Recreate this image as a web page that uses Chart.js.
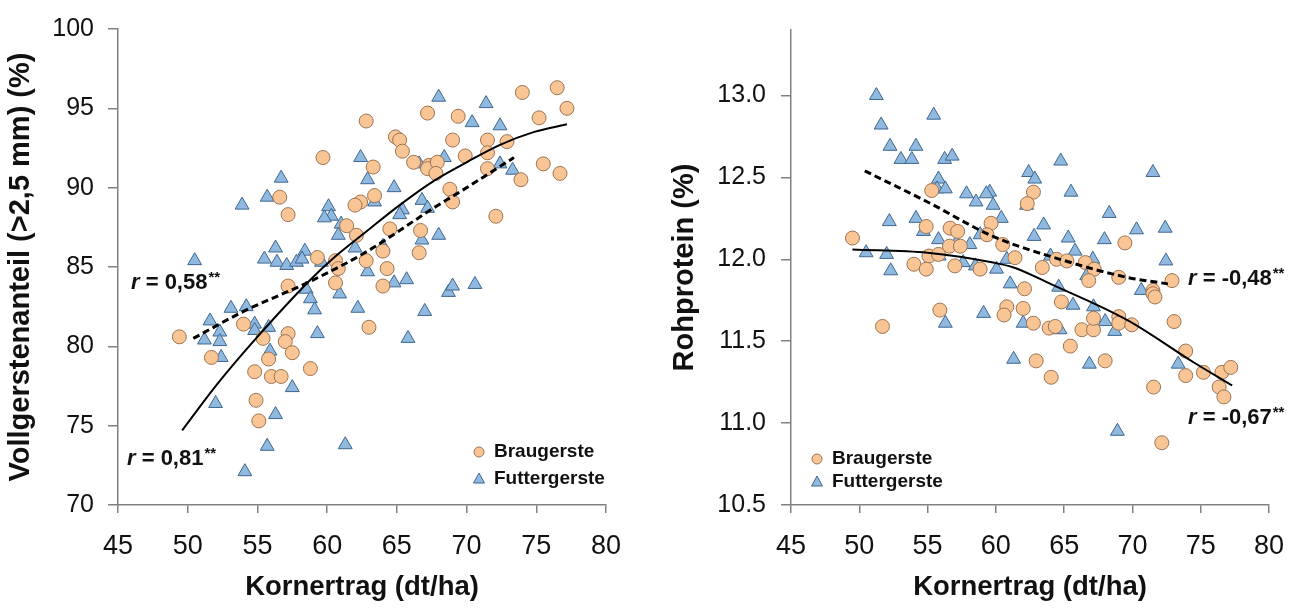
<!DOCTYPE html>
<html>
<head>
<meta charset="utf-8">
<script src="https://cdn.jsdelivr.net/npm/chart.js"></script>
<style>
  body { margin: 0; background: #fff; }
  #wrap { position: relative; width: 1306px; height: 610px; }
  canvas { position: absolute; top: 0; }
</style>
</head>
<body>
<div id="wrap">
  <canvas id="left" width="653" height="610" style="left:0"></canvas>
  <canvas id="right" width="653" height="610" style="left:653px"></canvas>
</div>
<script>
// --- data, left panel: Vollgerstenanteil vs Kornertrag ---
const braLeftX = [76.5, 74.0, 77.2, 75.2, 67.2, 69.4, 62.8, 64.9, 65.2, 65.4, 69.0, 71.5, 72.9, 71.5, 69.9, 66.2,
  67.3, 67.2, 67.9, 67.8, 59.7, 63.3, 75.5, 76.7, 71.5, 73.9, 68.8, 69.0, 56.6, 57.2, 63.4, 62.4, 62.0, 72.1,
  61.4, 64.5, 66.7, 62.1, 66.6, 64.0, 59.3, 60.6, 62.8, 64.3, 60.8, 49.4, 54.0, 55.4, 57.2, 57.2, 57.0, 57.5,
  51.7, 55.8, 54.8, 56.0, 56.7, 58.8, 54.9, 55.1, 60.6, 64.0, 63.0];
const braLeftY = [96.3, 96.0, 95.0, 94.4, 94.7, 94.5, 94.2, 93.2, 93.0, 92.3, 93.0, 93.0, 92.9, 92.2, 92.0, 91.6,
  91.4, 91.2, 91.6, 90.9, 91.9, 91.3, 91.5, 90.9, 91.2, 90.5, 89.9, 89.1, 89.4, 88.3, 89.5, 89.1, 88.9, 88.2,
  87.6, 87.4, 87.3, 87.0, 85.9, 86.0, 85.6, 85.4, 85.4, 84.9, 84.9, 80.6, 81.4, 80.5, 83.8, 80.8, 80.3, 79.6,
  79.3, 79.2, 78.4, 78.1, 78.1, 78.6, 76.6, 75.3, 84.0, 83.8, 81.2];
const futLeftX = [68.0, 71.4, 70.4, 72.4, 62.4, 66.6, 68.4, 72.4, 73.3, 56.7, 62.9, 64.8, 53.9, 55.7, 60.1, 60.3,
  59.8, 63.4, 61.0, 60.8, 66.8, 67.2, 65.4, 65.2, 66.8, 68.0, 64.0, 62.0, 58.4, 56.3, 50.5, 55.5, 56.4, 57.1,
  57.8, 58.2, 59.6, 62.9, 64.8, 65.7, 68.7, 69.0, 70.6, 58.5, 58.8, 59.1, 60.9, 62.2, 67.0, 53.1, 54.2, 51.6,
  54.8, 55.8, 52.3, 51.2, 52.3, 54.8, 59.3, 65.8, 55.9, 52.4, 57.5, 52.0, 56.3, 55.7, 61.3, 54.1];
const futLeftY = [95.7, 95.3, 94.1, 93.9, 91.9, 91.5, 91.9, 91.5, 91.1, 90.6, 90.5, 90.0, 88.9, 89.4, 88.8, 88.2,
  88.1, 89.1, 87.7, 87.0, 89.2, 88.7, 88.6, 88.3, 86.7, 87.0, 86.3, 86.2, 86.0, 86.2, 85.4, 85.5, 85.3, 85.1,
  85.3, 85.5, 85.3, 84.7, 84.0, 84.2, 83.4, 83.8, 83.9, 83.6, 83.0, 82.3, 83.3, 82.4, 82.2, 82.4, 82.5, 81.6,
  81.4, 81.2, 80.9, 80.4, 80.3, 81.0, 80.8, 80.5, 79.7, 79.3, 77.4, 76.4, 75.7, 73.7, 73.8, 72.1];
const solidLeftX = [49.6, 52.1, 54.9, 58.8, 60.5, 62.9, 65.2, 67.6, 70.0, 72.4, 74.8, 77.2];
const solidLeftY = [74.7, 77.6, 80.5, 84.2, 85.6, 87.3, 88.9, 90.4, 91.6, 92.7, 93.5, 94.0];
const dashLeftX = [50.4, 54.0, 58.8, 62.9, 67.6, 70.0, 73.4];
const dashLeftY = [80.5, 82.2, 84.1, 86.0, 88.7, 90.0, 91.9];

// --- data, right panel: Rohprotein vs Kornertrag ---
const braRightX = [49.5, 55.3, 62.75, 62.3, 59.65, 54.9, 56.65, 57.2, 59.35, 69.45, 56.6, 57.4, 60.5, 55.1, 55.8,
  54.0, 54.9, 57.0, 58.85, 61.4, 63.4, 64.45, 65.2, 66.55, 67.2, 69.0, 66.8, 72.9, 62.1, 71.5, 71.5, 71.65,
  64.8, 60.8, 60.6, 62.0, 55.9, 51.7, 62.75, 63.9, 64.35, 66.3, 67.15, 67.15, 69.0, 69.0, 69.95, 73.05,
  65.45, 62.95, 68.0, 64.05, 73.9, 73.9, 75.2, 76.55, 77.2, 76.35, 76.7, 71.55, 72.15];
const braRightY = [12.13, 12.42, 12.41, 12.34, 12.22, 12.2, 12.19, 12.17, 12.15, 12.1, 12.08, 12.08, 12.09, 12.02, 12.03,
  11.97, 11.94, 11.96, 11.94, 12.01, 11.95, 12.0, 11.99, 11.98, 11.94, 11.89, 11.87, 11.87, 11.82, 11.81, 11.79, 11.77,
  11.74, 11.71, 11.66, 11.7, 11.69, 11.59, 11.61, 11.58, 11.59, 11.57, 11.57, 11.64, 11.65, 11.61, 11.6, 11.62,
  11.47, 11.38, 11.38, 11.28, 11.44, 11.29, 11.31, 11.31, 11.34, 11.22, 11.16, 11.22, 10.88];
const futRightX = [51.25, 51.6, 55.45, 52.25, 54.15, 53.05, 53.85, 56.25, 56.8, 64.75, 71.5, 62.4, 62.85, 55.8, 55.7,
  56.3, 59.55, 59.3, 57.85, 65.5, 58.55, 59.8, 62.25, 60.4, 68.3, 52.2, 54.15, 63.5, 54.7, 55.8, 58.85, 57.1,
  58.1, 70.3, 72.4, 62.8, 65.3, 67.95, 65.8, 50.5, 52.0, 52.3, 55.85, 64.0, 67.1, 72.45, 60.8, 57.6, 58.5,
  60.05, 66.65, 61.05, 64.6, 70.65, 65.65, 67.15, 59.1, 56.3, 62.0, 64.7, 68.0, 68.7, 61.3, 66.85, 73.35, 68.9];
const futRightY = [13.0, 12.82, 12.88, 12.69, 12.69, 12.61, 12.61, 12.61, 12.63, 12.6, 12.53, 12.53, 12.49, 12.49, 12.43,
  12.43, 12.41, 12.4, 12.4, 12.41, 12.35, 12.33, 12.33, 12.25, 12.28, 12.23, 12.25, 12.21, 12.17, 12.12, 12.15, 12.1,
  12.09, 12.18, 12.19, 12.14, 12.13, 12.12, 12.05, 12.04, 12.03, 11.93, 12.02, 12.02, 12.0, 11.99, 12.0, 11.98, 11.96,
  11.94, 11.9, 11.85, 11.83, 11.81, 11.72, 11.71, 11.67, 11.61, 11.61, 11.57, 11.62, 11.56, 11.39, 11.36, 11.36, 10.95];
const solidRightX = [49.5, 55.0, 59.8, 61.3, 64.0, 69.6, 74.5, 77.3];
const solidRightY = [12.06, 12.04, 11.98, 11.95, 11.85, 11.63, 11.37, 11.23];
const dashRightX = [50.4, 55.0, 59.8, 64.7, 69.6, 72.6];
const dashRightY = [12.54, 12.35, 12.14, 12.0, 11.89, 11.85];

const xTicks = [45, 50, 55, 60, 65, 70, 75, 80];
const seriesNames = ['Braugerste', 'Futtergerste'];

const FONT = '"Liberation Sans", Arial, sans-serif';
const braFill = '#fac594', braLine = '#9a7352';
const futFill = '#8fb9df', futLine = '#3f6790';

function pts(xs, ys) { return xs.map((x, i) => ({ x: x, y: ys[i] })); }

// draws r-annotations and the small legend inside the plot
const overlay = {
  id: 'overlay',
  afterDraw(chart, args, opts) {
    const ctx = chart.ctx;
    ctx.save();
    ctx.fillStyle = '#111';
    ctx.textBaseline = 'middle';
    ctx.textAlign = 'left';
    opts.notes.forEach(n => {
      let x = n.x;
      ctx.font = 'italic bold 22px ' + FONT;
      ctx.fillText('r', x, n.y);
      x += ctx.measureText('r').width;
      ctx.font = 'bold 22px ' + FONT;
      const t = ' = ' + n.text;
      ctx.fillText(t, x, n.y);
      x += ctx.measureText(t).width;
      ctx.font = 'bold 15px ' + FONT;
      ctx.fillText('**', x + 1, n.y - 5);
    });
    const lg = opts.legend;
    seriesNames.forEach((name, i) => {
      const y = lg.y + i * lg.gap;
      ctx.lineWidth = 1;
      ctx.beginPath();
      if (i === 0) {
        ctx.fillStyle = braFill; ctx.strokeStyle = braLine;
        ctx.arc(lg.x, y, 5, 0, Math.PI * 2);
      } else {
        ctx.fillStyle = futFill; ctx.strokeStyle = futLine;
        ctx.moveTo(lg.x, y - 6);
        ctx.lineTo(lg.x + 5.5, y + 4);
        ctx.lineTo(lg.x - 5.5, y + 4);
        ctx.closePath();
      }
      ctx.fill(); ctx.stroke();
      ctx.fillStyle = '#111';
      ctx.font = 'bold 19px ' + FONT;
      ctx.fillText(name, lg.x + 15, y);
    });
    ctx.restore();
  }
};

function makeChart(id, cfg) {
  return new Chart(document.getElementById(id), {
    type: 'scatter',
    data: {
      datasets: [
        { type: 'line', data: pts(cfg.solidX, cfg.solidY), borderColor: '#000', borderWidth: 2,
          pointRadius: 0, cubicInterpolationMode: 'monotone', fill: false },
        { type: 'line', data: pts(cfg.dashX, cfg.dashY), borderColor: '#000', borderWidth: 3,
          borderDash: [7, 4], pointRadius: 0, cubicInterpolationMode: 'monotone', fill: false },
        { label: seriesNames[0], data: pts(cfg.braX, cfg.braY), pointStyle: 'circle', pointRadius: 7,
          backgroundColor: braFill, borderColor: braLine, borderWidth: 1 },
        { label: seriesNames[1], data: pts(cfg.futX, cfg.futY), pointStyle: 'triangle', pointRadius: 8,
          backgroundColor: futFill, borderColor: futLine, borderWidth: 1 }
      ]
    },
    options: {
      responsive: false,
      animation: false,
      devicePixelRatio: 1,
      layout: { padding: { top: 22, right: cfg.padRight, left: 0, bottom: 0 } },
      plugins: {
        legend: { display: false },
        tooltip: { enabled: false },
        overlay: { notes: cfg.notes, legend: cfg.legend }
      },
      scales: {
        x: {
          type: 'linear', min: 45, max: 80,
          afterBuildTicks: s => { s.ticks = xTicks.map(v => ({ value: v })); },
          afterFit: s => { s.height = 105; },
          grid: { drawOnChartArea: false, drawTicks: true, tickLength: 8, color: '#808080', lineWidth: 1.5 },
          border: { color: '#808080', width: 1.5 },
          ticks: { color: '#111', padding: 17, font: { family: FONT, size: 27 } },
          title: { display: true, text: 'Kornertrag (dt/ha)', color: '#111',
            padding: { top: 0, bottom: 6 }, font: { family: FONT, size: 27.5, weight: 'bold' } }
        },
        y: {
          type: 'linear', min: cfg.yMin, max: cfg.yMax,
          afterBuildTicks: s => { s.ticks = cfg.yTicks.map(v => ({ value: v })); },
          afterFit: s => { s.width = cfg.yWidth; },
          grid: { drawOnChartArea: false, drawTicks: true, tickLength: 10, color: '#808080', lineWidth: 1.5 },
          border: { color: '#808080', width: 1.5 },
          ticks: { color: '#111', padding: cfg.yPad, font: { family: FONT, size: 25 },
            callback: v => cfg.yFmt(v) },
          title: { display: true, text: cfg.yTitle, color: '#111',
            padding: { top: cfg.titlePad, bottom: 0 }, font: { family: FONT, size: 29, weight: 'bold' } }
        }
      }
    },
    plugins: [overlay]
  });
}

makeChart('left', {
  braX: braLeftX, braY: braLeftY, futX: futLeftX, futY: futLeftY,
  solidX: solidLeftX, solidY: solidLeftY, dashX: dashLeftX, dashY: dashLeftY,
  yMin: 70, yMax: 100, yTicks: [70, 75, 80, 85, 90, 95, 100], yFmt: v => String(v),
  yTitle: 'Vollgerstenanteil (>2,5 mm) (%)', yWidth: 118, yPad: 14, titlePad: 4, padRight: 47,
  notes: [{ x: 131, y: 283, text: '0,58' }, { x: 127, y: 459, text: '0,81' }],
  legend: { x: 479, y: 452, gap: 27 }
});

makeChart('right', {
  braX: braRightX, braY: braRightY, futX: futRightX, futY: futRightY,
  solidX: solidRightX, solidY: solidRightY, dashX: dashRightX, dashY: dashRightY,
  yMin: 10.5, yMax: 13.4, yTicks: [10.5, 11.0, 11.5, 12.0, 12.5, 13.0], yFmt: v => v.toFixed(1),
  yTitle: 'Rohprotein (%)', yWidth: 138, yPad: 15, titlePad: 15, padRight: 37,
  notes: [{ x: 535, y: 279, text: '-0,48' }, { x: 535, y: 418, text: '-0,67' }],
  legend: { x: 164, y: 459, gap: 23 }
});
</script>
</body>
</html>
